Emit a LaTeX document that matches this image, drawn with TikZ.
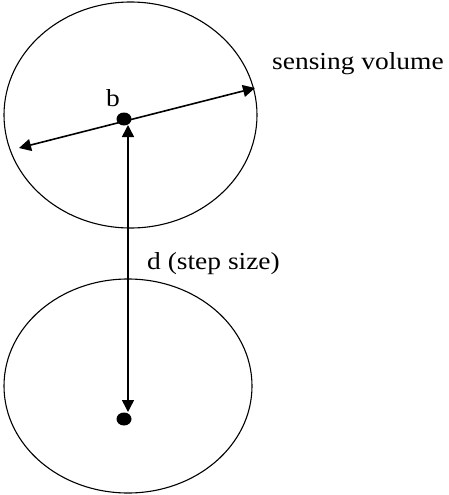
\documentclass[tikz,border=0pt]{standalone}
\usepackage{fontspec}
\setmainfont{Liberation Serif}
\usetikzlibrary{arrows.meta,shapes.geometric}
\begin{document}
\begin{tikzpicture}[x=1pt,y=-1pt,
  vol/.style={draw=black,line width=1.1pt},
  dotb/.style={fill=black,draw=none,ellipse,minimum width=15pt,minimum height=13pt,inner sep=0pt},
  dimarrow/.style={line width=1.6pt,{Triangle[length=12pt,width=12pt]}-{Triangle[length=12pt,width=12pt]}},
  lbl/.style={font=\fontsize{24.5}{28}\selectfont,inner sep=0pt,xscale=1.12}]
\useasboundingbox (0,0) rectangle (448,495);
\draw[vol] (130.5,115) ellipse [x radius=126.5, y radius=113];
\draw[vol] (128,386) ellipse [x radius=124, y radius=107];
\node[dotb] (b) at (124,119) {};
\node[dotb] (c) at (124,419) {};
\coordinate (l) at (19,148);
\coordinate (r) at (255,88);
\coordinate (vt) at (128,125);
\coordinate (vb) at (128,412);
\draw[dimarrow] (l) -- (r);
\draw[dimarrow] (vt) -- (vb);
\node[lbl,anchor=base west] (bl) at (106,106) {b};
\node[lbl,anchor=base west] (sv) at (272,70) {sensing volume};
\node[lbl,anchor=base west] (d) at (147,269) {d (step size)};
\end{tikzpicture}
\end{document}
